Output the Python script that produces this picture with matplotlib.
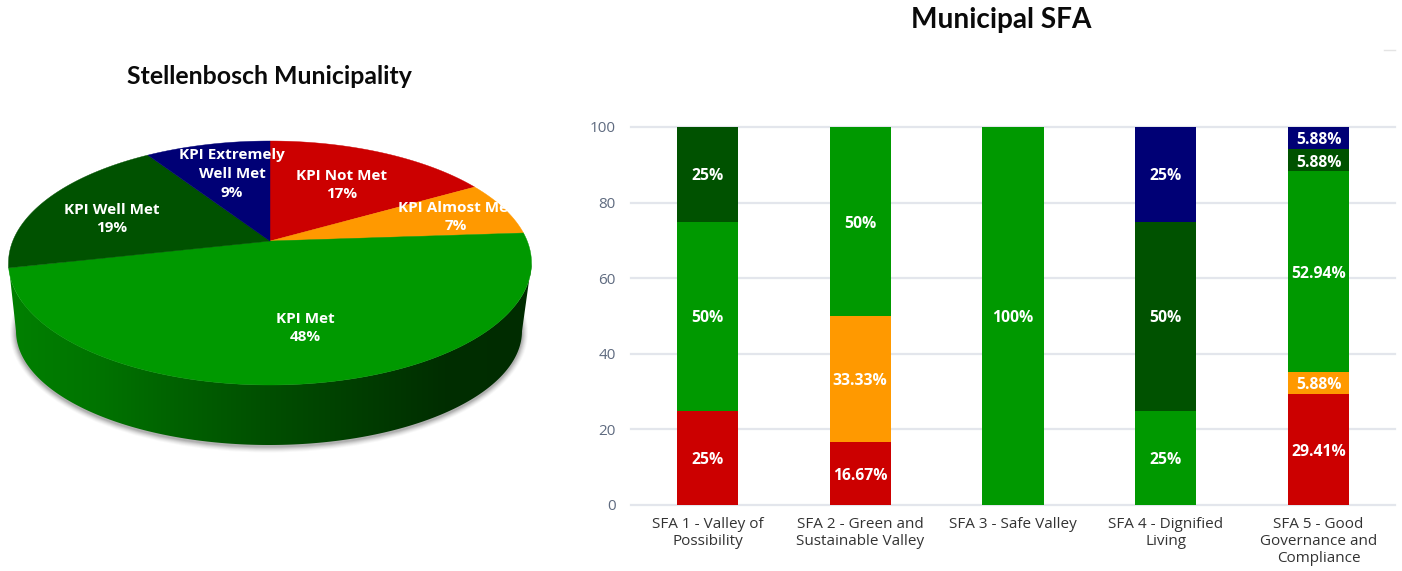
import numpy as np
import matplotlib
matplotlib.use("Agg")
import matplotlib.pyplot as plt
from matplotlib.colors import LinearSegmentedColormap
from matplotlib.patches import Polygon, Ellipse
from matplotlib.lines import Line2D

W, H = 1402, 571

# ---------- data ----------
pie_labels = ["KPI Not Met", "KPI Almost Met", "KPI Met", "KPI Well Met", "KPI Extremely\nWell Met"]
pie_values = [16.7, 7.2, 47.6, 19.3, 9.2]
sfa_labels = ["SFA 1 - Valley of\nPossibility", "SFA 2 - Green and\nSustainable Valley",
              "SFA 3 - Safe Valley", "SFA 4 - Dignified\nLiving",
              "SFA 5 - Good\nGovernance and\nCompliance"]
not_met = [25, 16.67, 0, 0, 29.41]
almost_met = [0, 33.33, 0, 0, 5.88]
met = [50, 50, 100, 25, 52.94]
well_met = [25, 0, 0, 50, 5.88]
extremely = [0, 0, 0, 25, 5.88]
y_ticks = [0, 20, 40, 60, 80, 100]

RED, ORANGE, GREEN, DARK, NAVY = "#cc0000", "#ff9900", "#009900", "#005200", "#000075"
colors = [RED, ORANGE, GREEN, DARK, NAVY]

fig = plt.figure(figsize=(W / 100, H / 100), dpi=100, facecolor="white")

# ---------- pie in pixel space ----------
ax = fig.add_axes([0, 0, 1, 1])
ax.set_xlim(0, W)
ax.set_ylim(H, 0)
ax.axis("off")

CX, CY, RX, RY = 270, 263, 261.5, 122
C = 0.18   # how far the perspective moves the apex toward the back


def project(theta):
    """Angles (clockwise from top) on a tilted disc."""
    x, y = np.sin(theta), np.cos(theta)
    d = 1 + C * y
    return CX + RX * x * np.sqrt(1 - C ** 2) / d, CY - RY * (y + C) / d


apex = (CX, CY - RY * C)

# soft shadow below the wall
BX, BY, BRX, BRY = 269, 331, 253, 114
for i, a in zip(range(6, 0, -1), [.04, .06, .08, .10, .13, .16]):
    ax.add_patch(Ellipse((BX, BY + 1.5), 2 * BRX + i * 2.0, 2 * BRY + i * 2.0,
                         fc="#555555", ec="none", alpha=a, zorder=1))

# side wall with horizontal shading
t = np.linspace(-np.pi / 2, np.pi / 2, 200)
top_x, top_y = CX + RX * np.sin(t), CY + RY * np.cos(t)
bot_x, bot_y = BX + BRX * np.sin(t), BY + BRY * np.cos(t)
wall = np.vstack([np.column_stack([top_x, top_y]), np.column_stack([bot_x, bot_y])[::-1]])
patch = Polygon(wall, closed=True, fc="none", ec="none", transform=ax.transData)
ax.add_patch(patch)
cmap = LinearSegmentedColormap.from_list(
    "wall", ["#008000", "#007400", "#006000", "#004e00", "#003e00", "#002e00", "#002c00"])
grad = np.linspace(0, 1, 256)[None, :]
im = ax.imshow(grad, extent=(8, 532, 460, 260), cmap=cmap, aspect="auto", zorder=2)
im.set_clip_path(patch)
ax.set_xlim(0, W)
ax.set_ylim(H, 0)

# top face, from the shares
cum = np.concatenate([[0], np.cumsum(pie_values)]) / np.sum(pie_values) * 2 * np.pi
for a0, a1, col in zip(cum[:-1], cum[1:], colors):
    th = np.linspace(a0, a1, 120)
    px, py = project(th)
    ax.add_patch(Polygon(np.vstack([[apex], np.column_stack([px, py])]), closed=True,
                         fc=col, ec=col, lw=0.3, zorder=3))

pie_pos = [(342, 185), (456, 217), (305, 328), (112, 219), (232, 174)]
for lab, val, (x, y) in zip(pie_labels, pie_values, pie_pos):
    ax.text(x, y, f"{lab}\n{val:.0f}%", color="white", ha="center", va="center",
            fontsize=11, fontweight="bold", family="Open Sans", linespacing=1.42, zorder=5)

ax.text(269, 77, "Stellenbosch Municipality", ha="center", va="center",
        fontsize=17.9, fontweight="bold", family="Lato", color="#0a0a0a")
ax.text(1001, 20, "Municipal SFA", ha="center", va="center",
        fontsize=20.2, fontweight="bold", family="Lato", color="#0a0a0a")
ax.add_line(Line2D([1384, 1395], [50, 50], color="#e4e4e4", lw=1))

# ---------- stacked bars ----------
L, R, T, B = 631, 1395, 127, 505
bx = fig.add_axes([L / W, 1 - B / H, (R - L) / W, (B - T) / H])
bx.patch.set_alpha(0)
xs = np.arange(len(sfa_labels))
bottom = np.zeros(len(xs))
for vals, col in zip([not_met, almost_met, met, well_met, extremely], colors):
    vals = np.array(vals, dtype=float)
    bx.bar(xs, vals, 0.4, bottom=bottom, color=col, zorder=3)
    for x, v, b in zip(xs, vals, bottom):
        if v > 0:
            s = f"{v:g}%"
            bx.annotate(s, (x, b + v / 2), xytext=(0, -1.6), textcoords="offset points",
                        color="white", ha="center", va="center",
                        fontsize=11.3, fontweight="bold", family="Open Sans", zorder=4)
    bottom += vals
bx.set_xlim(-0.5, 4.5)
bx.set_ylim(0, 100)
bx.set_yticks(y_ticks)
bx.set_xticks(xs)
bx.set_xticklabels(sfa_labels, fontsize=11, family="Open Sans", color="#333333", linespacing=1.17)
bx.tick_params(axis="both", length=0)
bx.tick_params(axis="x", pad=8.5)
bx.tick_params(axis="y", pad=11, labelsize=11, labelcolor="#5f6b80")
for lab in bx.get_yticklabels():
    lab.set_family("Open Sans")
bx.grid(axis="y", color="#e3e6ec", lw=1.6, zorder=0)
for s in bx.spines.values():
    s.set_visible(False)
for l in bx.yaxis.get_gridlines():
    l.set_clip_on(False)

fig.savefig("out.png", dpi=100)
